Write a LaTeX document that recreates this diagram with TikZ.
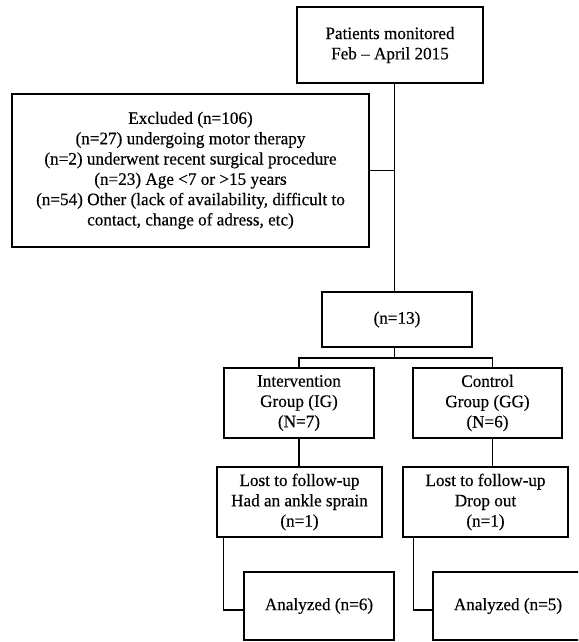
\documentclass[tikz,border=0pt]{standalone}
\usepackage{fontspec}
\setmainfont{Liberation Serif}[FakeStretch=0.98,FakeBold=0.4]
\usetikzlibrary{calc}
\begin{document}
\begin{tikzpicture}[x=1pt,y=-1pt,
  box/.style={draw, line width=1.4pt, align=center, inner sep=0pt,
    font=\fontsize{17.5}{20.3}\selectfont},
  conn/.style={line width=1.4pt}]
\useasboundingbox (0,0) rectangle (578,642);
\clip (0,0) rectangle (578,642);
\node[box, minimum width=186pt, minimum height=76pt] (top) at (390,45) {Patients monitored\\Feb – April 2015};
\node[box, minimum width=357pt, minimum height=153pt] (excl) at (190.5,170.5) {Excluded (n=106)\\(n=27) undergoing motor therapy\\(n=2) underwent recent surgical procedure\\(n=23) Age <7 or >15 years\\(n=54) Other (lack of availability, difficult to\\contact, change of adress, etc)};
\node[box, minimum width=150pt, minimum height=55pt] (n13) at (397,319.5) {(n=13)};
\node[box, minimum width=150pt, minimum height=70pt] (ig) at (299,403) {Intervention\\Group (IG)\\(N=7)};
\node[box, minimum width=149pt, minimum height=70pt] (cg) at (487.5,403) {Control\\Group (GG)\\(N=6)};
\node[box, minimum width=165pt, minimum height=70pt] (lig) at (299.5,502) {Lost to follow-up\\Had an ankle sprain\\(n=1)};
\node[box, minimum width=165pt, minimum height=70pt] (lcg) at (485.5,502) {Lost to follow-up\\Drop out\\(n=1)};
\node[box, minimum width=150pt, minimum height=68pt] (aig) at (319,606) {Analyzed (n=6)};
\node[box, minimum width=150pt, minimum height=68pt] (acg) at (508,606) {Analyzed (n=5)};
\coordinate (spine) at (394.5,0);
\coordinate (split) at (394.5,358);
\coordinate (cgtop) at (492.5,0);
\draw[conn] (top.south -| spine) -- (n13.north -| spine);
\draw[conn] (excl.east) -- (excl.east -| spine);
\draw[conn] (n13.south -| split) -- (split);
\draw[conn] (ig.north) |- (split) -| (cg.north -| cgtop);
\draw[conn] (ig.south) -- (ig.south |- lig.north);
\draw[conn] (cg.south -| cgtop) -- (lcg.north -| cgtop);
\draw[conn] ($(lig.south west)+(7,0)$) |- ($(aig.west)+(0,4)$);
\draw[conn] ($(lcg.south west)+(11,0)$) |- ($(acg.west)+(0,4)$);
\end{tikzpicture}
\end{document}
